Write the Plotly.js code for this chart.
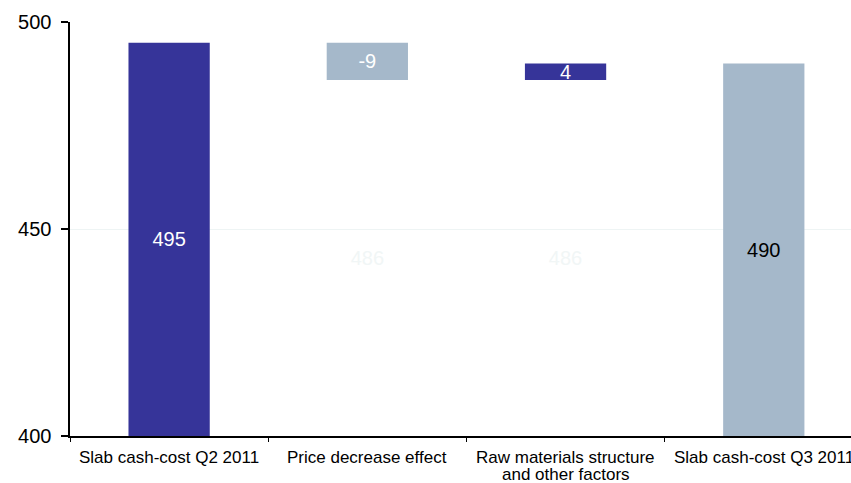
<!DOCTYPE html>
<html>
<head>
<meta charset="utf-8">
<script src="https://cdn.plot.ly/plotly-3.0.1.min.js"></script>
<style>
  html, body { margin: 0; padding: 0; background: #ffffff; }
  #chart { width: 851px; height: 483px; }
</style>
</head>
<body>
<div id="chart"></div>
<script>
// Slab cash-cost bridge, Q2 2011 -> Q3 2011
const categories = [
  'Slab cash-cost Q2 2011',
  'Price decrease effect',
  'Raw materials structure<br>and other factors',
  'Slab cash-cost Q3 2011'
];
const startValue = 495;          // Q2 2011 total
const changes = [-9, 4];         // bridge steps
const endValue = 490;            // Q3 2011 total
const axisMin = 400;
const axisMax = 500;
const yTicks = [400, 450, 500];

const darkBlue = '#363499';
const greyBlue = '#a5b8ca';

// Running levels for the floating steps
const stepCats = categories.slice(1, 3);
const stepLow = [], stepHigh = [];
let level = startValue;
changes.forEach(d => {
  const next = level + d;
  stepLow.push(Math.min(level, next));
  stepHigh.push(Math.max(level, next));
  level = next;
});

const totalCats = [categories[0], categories[3]];
const totals = [startValue, endValue];

const labelCommon = {
  textposition: 'inside',
  insidetextanchor: 'middle',
  constraintext: 'none',
  textangle: 0,
  width: 0.41
};

const traces = [
  Object.assign({
    // hidden support under each step, carrying a faint level label
    type: 'bar',
    x: stepCats,
    base: stepLow.map(() => axisMin),
    y: stepLow.map(v => v - axisMin),
    text: stepLow.map(v => String(v)),
    textfont: { color: '#f1f6f6', size: 20 },
    marker: { color: 'rgba(0,0,0,0)' },
    hoverinfo: 'skip'
  }, labelCommon),
  Object.assign({
    type: 'bar',
    x: totalCats,
    base: totals.map(() => axisMin),
    y: totals.map(v => v - axisMin),
    text: totals.map(v => String(v)),
    textfont: { color: ['#ffffff', '#000000'], size: 20 },
    marker: { color: [darkBlue, greyBlue] }
  }, labelCommon),
  Object.assign({
    type: 'bar',
    x: stepCats,
    base: stepLow,
    y: stepHigh.map((h, i) => h - stepLow[i]),
    text: changes.map(v => String(v)),
    textfont: { color: '#ffffff', size: 20 },
    marker: { color: changes.map(v => v < 0 ? greyBlue : darkBlue) }
  }, labelCommon)
];

// Category labels, one annotation per text line (tight line spacing)
const catAnnotations = [];
categories.forEach(cat => {
  cat.split('<br>').forEach((line, i) => {
    catAnnotations.push({
      x: cat, xref: 'x',
      y: 0, yref: 'paper',
      yanchor: 'middle', xanchor: 'center',
      yshift: -21 - 17 * i,
      text: line,
      showarrow: false,
      font: { size: 17, color: '#000000' }
    });
  });
});

const layout = {
  width: 851,
  height: 483,
  margin: { l: 70, r: 0, t: 22, b: 47, pad: 0 },
  paper_bgcolor: '#ffffff',
  plot_bgcolor: '#ffffff',
  barmode: 'overlay',
  showlegend: false,
  font: { family: '"Liberation Sans", Arial, sans-serif', color: '#000000' },
  xaxis: {
    type: 'category',
    categoryorder: 'array',
    categoryarray: categories,
    range: [-0.5, 3.44],
    showline: true,
    linecolor: '#000000',
    linewidth: 2,
    ticks: 'outside',
    tickson: 'boundaries',
    ticklen: 4,
    tickwidth: 1,
    tickcolor: '#000000',
    showticklabels: false,
    showgrid: false,
    zeroline: false
  },
  yaxis: {
    range: [axisMin, axisMax],
    tickvals: yTicks,
    ticktext: yTicks.map(v => v + '\u00a0'),
    showline: true,
    linecolor: '#000000',
    linewidth: 2,
    ticks: 'outside',
    ticklen: 7,
    tickwidth: 2,
    tickcolor: '#000000',
    showgrid: true,
    gridcolor: '#eef4f4',
    gridwidth: 1,
    zeroline: false,
    tickfont: { size: 20, color: '#000000' }
  },
  annotations: catAnnotations
};

Plotly.newPlot('chart', traces, layout, { displayModeBar: false, staticPlot: true });
</script>
</body>
</html>
